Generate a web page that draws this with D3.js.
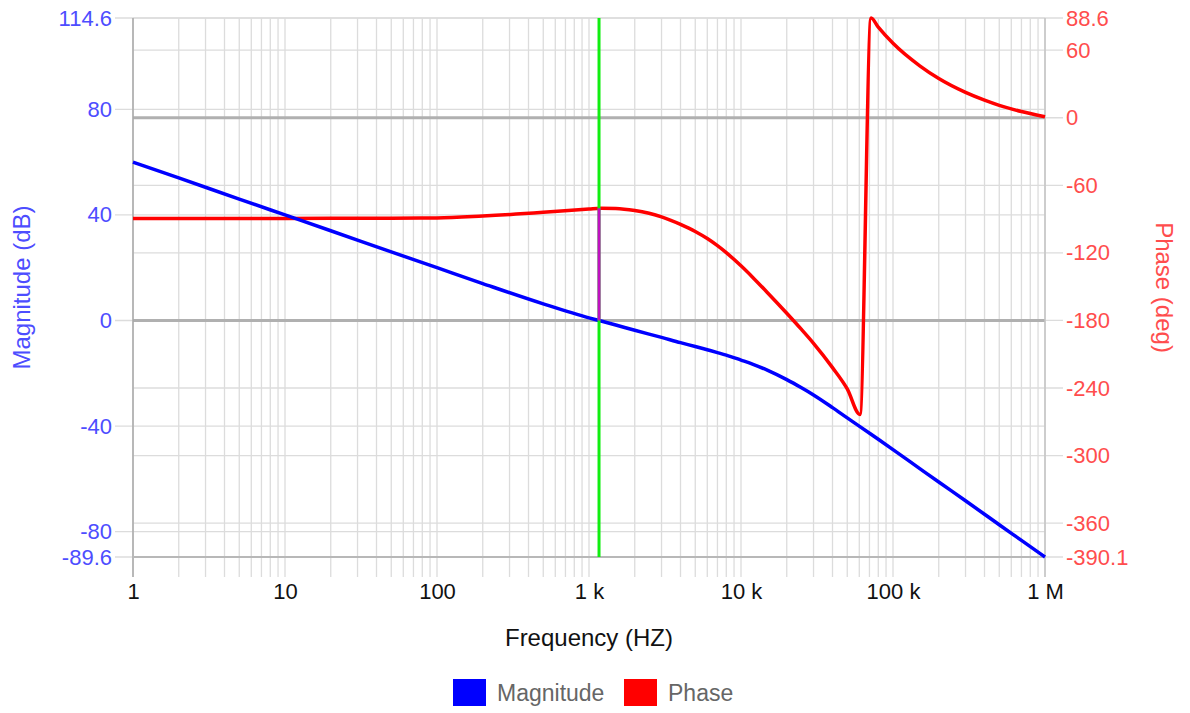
<!DOCTYPE html>
<html>
<head>
<meta charset="utf-8">
<script src="https://cdn.jsdelivr.net/npm/d3@7"></script>
<style>
  body { margin: 0; background: #fff; }
  svg { font-family: "Liberation Sans", Arial, sans-serif; }
</style>
</head>
<body>
<svg id="chart" width="1190" height="713"></svg>
<script>
// data
const freqs = [1, 2, 5, 10, 20, 50, 100, 200, 500, 1000, 1200, 1500, 2000, 3000, 4000, 5000, 6000, 7000, 8000, 10000, 12000, 15000, 20000, 25000, 30000, 40000, 50000, 60600, 71700, 80000, 100000, 150000, 200000, 300000, 400000, 500000, 700000, 1000000];
const magnitude = [60, 54, 46, 40, 34, 26, 20, 14, 6.3, 1.0, -0.2, -1.7, -3.7, -6.4, -8.4, -9.85, -11.1, -12.15, -13.1, -15.0, -16.6, -18.9, -22.4, -25.5, -28.2, -33.0, -36.9, -40.2, -43.1, -45.0, -48.9, -56.1, -61.2, -68.3, -73.4, -77.4, -83.3, -89.6];
const phase = [-89.4, -89.4, -89.4, -89.4, -89.3, -89.2, -89.0, -87.3, -84.0, -81.0, -80.3, -80.5, -82.4, -88.0, -94.7, -101.0, -107.3, -113.6, -119.8, -131.5, -142.0, -155.6, -173.6, -188.0, -200.3, -221.9, -240.8, -263.5, 88.6, 80.5, 66.1, 46.1, 34.8, 22.5, 15.6, 11.0, 5.5, 0.9];

const magTicks = [114.6, 80, 40, 0, -40, -80, -89.6];
const phaseTicks = [88.6, 60, 0, -60, -120, -180, -240, -300, -360, -390.1];
const freqTicks = [1, 10, 100, 1000, 10000, 100000, 1000000];
const freqTickLabels = ['1', '10', '100', '1 k', '10 k', '100 k', '1 M'];
const seriesNames = ['Magnitude', 'Phase'];
const seriesColors = ['#0000ff', '#ff0000'];

// crossover frequency and phase there (phase margin marker)
const crossoverFreq = 1164;
const crossoverPhase = -80.4;

const margin = {top: 18, right: 145, bottom: 156, left: 133};
const width = 1190 - margin.left - margin.right;
const height = 713 - margin.top - margin.bottom;

const magColor = 'rgb(77,77,255)';
const phaseColor = 'rgb(255,77,77)';
const gridColor = '#dcdcdc';

const x = d3.scaleLog().domain([1, 1e6]).range([0, width]);
const yMag = d3.scaleLinear().domain([-89.6, 114.6]).range([height, 0]);
const yPh = d3.scaleLinear().domain([-390.1, 88.6]).range([height, 0]);

const svg = d3.select('#chart');
const g = svg.append('g').attr('transform', `translate(${margin.left},${margin.top})`);

// vertical grid (log minor lines), with tick stubs below the plot
g.append('g').selectAll('line')
  .data(x.ticks())
  .enter().append('line')
  .attr('x1', d => x(d)).attr('x2', d => x(d))
  .attr('y1', 0).attr('y2', height + 20)
  .attr('stroke', gridColor)
  .attr('stroke-width', 1.3);

// horizontal grid for both axes
g.append('g').selectAll('line')
  .data(magTicks)
  .enter().append('line')
  .attr('x1', -18).attr('x2', width)
  .attr('y1', d => yMag(d)).attr('y2', d => yMag(d))
  .attr('stroke', gridColor)
  .attr('stroke-width', 1.3);

g.append('g').selectAll('line')
  .data(phaseTicks)
  .enter().append('line')
  .attr('x1', 0).attr('x2', width + 18)
  .attr('y1', d => yPh(d)).attr('y2', d => yPh(d))
  .attr('stroke', gridColor)
  .attr('stroke-width', 1.3);

// zero lines
g.append('line')
  .attr('x1', 0).attr('x2', width)
  .attr('y1', yMag(0)).attr('y2', yMag(0))
  .attr('stroke', '#b0b0b0').attr('stroke-width', 3);
g.append('line')
  .attr('x1', 0).attr('x2', width)
  .attr('y1', yPh(0)).attr('y2', yPh(0))
  .attr('stroke', '#b0b0b0').attr('stroke-width', 3);

// plot borders
g.append('line').attr('x1', 0).attr('x2', 0).attr('y1', 0).attr('y2', height + 20)
  .attr('stroke', '#a8a8a8').attr('stroke-width', 1.5);
g.append('line').attr('x1', 0).attr('x2', width).attr('y1', height).attr('y2', height)
  .attr('stroke', '#b8b8b8').attr('stroke-width', 2);
g.append('line').attr('x1', width).attr('x2', width).attr('y1', 0).attr('y2', height + 20)
  .attr('stroke', '#c4c4c4').attr('stroke-width', 1.5);

// axes (labels only, the grid above draws the tick lines)
const xAxis = g.append('g')
  .attr('transform', `translate(0,${height})`)
  .call(d3.axisBottom(x).tickValues(freqTicks).tickSize(0).tickPadding(26)
    .tickFormat((d, i) => freqTickLabels[i]));

const magAxis = g.append('g')
  .call(d3.axisLeft(yMag).tickValues(magTicks).tickSize(0).tickPadding(21)
    .tickFormat(d => String(d)));

const phAxis = g.append('g')
  .attr('transform', `translate(${width},0)`)
  .call(d3.axisRight(yPh).tickValues(phaseTicks).tickSize(0).tickPadding(21)
    .tickFormat(d => String(d)));

[xAxis, magAxis, phAxis].forEach(a => a.select('.domain').remove());
xAxis.selectAll('text').attr('fill', '#111').style('font-size', '22px');
magAxis.selectAll('text').attr('fill', magColor).style('font-size', '22px');
phAxis.selectAll('text').attr('fill', phaseColor).style('font-size', '22px');

// curves
const magLine = d3.line()
  .x((d, i) => x(freqs[i]))
  .y(d => yMag(d))
  .curve(d3.curveMonotoneX);
const phLine = d3.line()
  .x((d, i) => x(freqs[i]))
  .y(d => yPh(d))
  .curve(d3.curveMonotoneX);

g.append('path').datum(phase)
  .attr('d', phLine)
  .attr('fill', 'none')
  .attr('stroke', seriesColors[1])
  .attr('stroke-width', 3.5)
  .attr('stroke-linejoin', 'round');

g.append('path').datum(magnitude)
  .attr('d', magLine)
  .attr('fill', 'none')
  .attr('stroke', seriesColors[0])
  .attr('stroke-width', 3.5)
  .attr('stroke-linejoin', 'round');

// crossover marker + phase margin
g.append('line')
  .attr('x1', x(crossoverFreq)).attr('x2', x(crossoverFreq))
  .attr('y1', 0).attr('y2', height)
  .attr('stroke', '#11ee11').attr('stroke-width', 3);
g.append('line')
  .attr('x1', x(crossoverFreq)).attr('x2', x(crossoverFreq))
  .attr('y1', yMag(0)).attr('y2', yPh(crossoverPhase))
  .attr('stroke', '#c010c0').attr('stroke-width', 3);

// axis titles
svg.append('text')
  .attr('transform', `translate(22,${margin.top + height / 2}) rotate(-90)`)
  .attr('text-anchor', 'middle').attr('dy', '0.35em')
  .attr('fill', magColor).style('font-size', '24px')
  .text('Magnitude (dB)');

svg.append('text')
  .attr('transform', `translate(1164,${margin.top + height / 2}) rotate(90)`)
  .attr('text-anchor', 'middle').attr('dy', '0.35em')
  .attr('fill', phaseColor).style('font-size', '24px')
  .text('Phase (deg)');

svg.append('text')
  .attr('x', margin.left + width / 2).attr('y', 638)
  .attr('text-anchor', 'middle').attr('dy', '0.35em')
  .attr('fill', '#111').style('font-size', '24px')
  .text('Frequency (HZ)');

// legend
const legendX = [453, 624];
const legend = svg.append('g').selectAll('g')
  .data(seriesNames)
  .enter().append('g')
  .attr('transform', (d, i) => `translate(${legendX[i]},679)`);
legend.append('rect')
  .attr('width', 33).attr('height', 27)
  .attr('fill', (d, i) => seriesColors[i]);
legend.append('text')
  .attr('x', 44).attr('y', 13.5).attr('dy', '0.35em')
  .attr('fill', '#666').style('font-size', '23px')
  .text(d => d);
</script>
</body>
</html>
